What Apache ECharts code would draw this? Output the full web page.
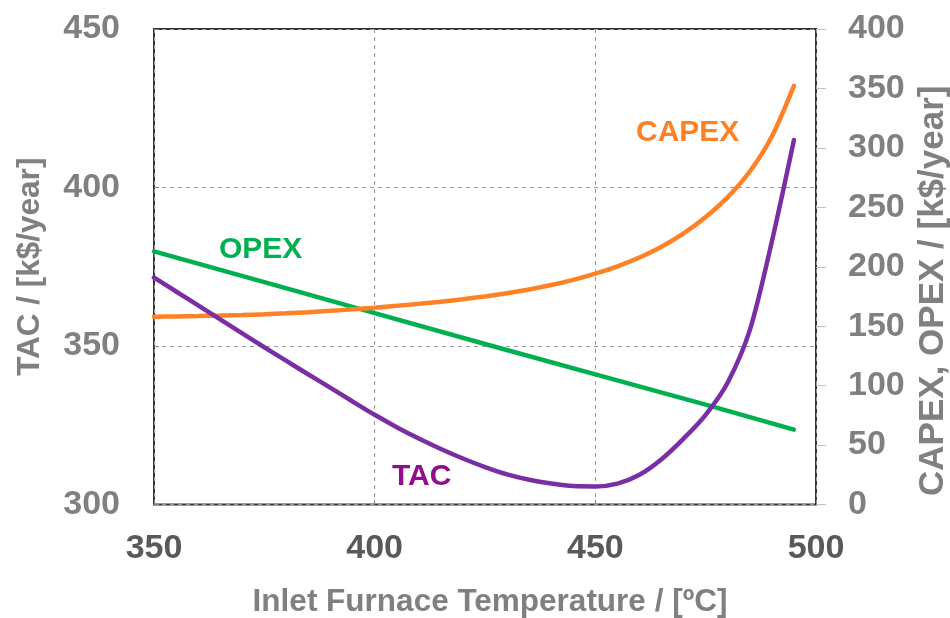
<!DOCTYPE html>
<html>
<head>
<meta charset="utf-8">
<script src="https://cdn.jsdelivr.net/npm/echarts@6/dist/echarts.min.js"></script>
<style>html,body{margin:0;padding:0;background:#fff}#c{width:950px;height:618px}</style>
</head>
<body>
<div id="c"></div>
<script>
// Temperatures (ºC)
var opexT  = [350, 375, 400, 425, 450, 475, 495];
var opexV  = [213, 187, 161, 135, 109.5, 84, 63];
var capexT = [350, 355, 360, 365, 370, 375, 380, 385, 390, 395, 400, 405, 410, 415, 420, 425, 430, 435, 440, 445, 450, 455, 460, 465, 470, 475, 480, 485, 490, 495];
var capexV = [158, 158.2, 158.5, 158.9, 159.4, 160.05, 160.85, 161.8, 162.9, 164.15, 165.55, 167.1, 168.8, 170.65, 172.7, 175.05, 177.75, 180.9, 184.6, 189, 194.2, 200.4, 207.8, 216.8, 228, 241.8, 258.6, 280.1, 309.6, 352.1];
var tacT   = [350, 355, 360, 365, 370, 375, 380, 385, 390, 395, 400, 405, 410, 415, 420, 425, 430, 435, 440, 445, 450, 455, 460, 465, 470, 475, 480, 485, 490, 495];
var tacV   = [371.6, 367.2, 362.8, 358.4, 354, 349.6, 345.3, 341, 336.8, 332.5, 328.3, 324.4, 320.8, 317.5, 314.5, 311.8, 309.5, 307.8, 306.6, 305.8, 305.7, 306.6, 309.4, 314.3, 320.8, 328.3, 338.5, 355, 383, 415];
var xTicks = [350, 400, 450, 500];
var leftTicks = [300, 350, 400, 450];
var rightTicks = [0, 50, 100, 150, 200, 250, 300, 350, 400];

function pairs(xs, ys){ return xs.map(function(x,i){ return [x, ys[i]]; }); }

var FONT = '"Liberation Sans", Arial, sans-serif';
var chart = echarts.init(document.getElementById('c'), null, {renderer:'canvas'});
chart.setOption({
  animation: false,
  backgroundColor: '#ffffff',
  grid: {left: 154, right: 134, top: 29, bottom: 113.5, containLabel: false, outerBoundsMode: 'none',
         show: true, borderColor: '#333333', borderWidth: 2, backgroundColor: 'transparent'},
  xAxis: {
    type: 'value', min: xTicks[0], max: xTicks[xTicks.length-1], interval: 50,
    name: 'Inlet Furnace Temperature / [ºC]', nameLocation: 'middle', nameGap: 82,
    nameTextStyle: {fontFamily: FONT, fontSize: 31.5, fontWeight: 'bold', color: '#808080', padding: [0, 0, 0, 10]},
    axisLine: {show: false},
    axisTick: {show: true, inside: true, length: 5, lineStyle: {color: '#888'}},
    axisLabel: {margin: 27, fontFamily: FONT, fontSize: 34, fontWeight: 'bold', color: '#595959'},
    splitLine: {show: true, lineStyle: {type: [4, 4], color: '#999999', width: 1}}
  },
  yAxis: [{
    type: 'value', min: leftTicks[0], max: leftTicks[leftTicks.length-1], interval: 50,
    name: 'TAC / [k$/year]', nameLocation: 'middle', nameGap: 108,
    nameTextStyle: {fontFamily: FONT, fontSize: 31.5, fontWeight: 'bold', color: '#808080'},
    axisLine: {show: false},
    axisTick: {show: true, inside: true, length: 5, lineStyle: {color: '#888'}},
    axisLabel: {margin: 34, fontFamily: FONT, fontSize: 34, fontWeight: 'bold', color: '#808080'},
    splitLine: {show: true, lineStyle: {type: [4, 4], color: '#999999', width: 1}}
  }, {
    type: 'value', min: rightTicks[0], max: rightTicks[rightTicks.length-1], interval: 50,
    name: 'CAPEX, OPEX / [k$/year]', nameLocation: 'middle', nameGap: 99,
    nameTextStyle: {fontFamily: FONT, fontSize: 35, fontWeight: 'bold', color: '#808080', padding: [0, 48, 0, 0]},
    axisLine: {show: false},
    axisTick: {show: true, inside: false, length: 10, lineStyle: {color: '#c0c0c0'}},
    axisLabel: {margin: 32, fontFamily: FONT, fontSize: 34, fontWeight: 'bold', color: '#808080'},
    splitLine: {show: false}
  }],
  series: [{
    name: 'OPEX', type: 'line', yAxisIndex: 1, data: pairs(opexT, opexV),
    showSymbol: false, smooth: false, lineStyle: {color: '#00B050', width: 4.5, cap: 'round'}
  }, {
    name: 'CAPEX', type: 'line', yAxisIndex: 1, data: pairs(capexT, capexV),
    showSymbol: false, smooth: 0.3, lineStyle: {color: '#FF8126', width: 4.5, cap: 'round'}
  }, {
    name: 'TAC', type: 'line', yAxisIndex: 0, data: pairs(tacT, tacV),
    showSymbol: false, smooth: 0.3, lineStyle: {color: '#7A2EA3', width: 4.5, cap: 'round'}
  }],
  graphic: [
    {type: 'text', left: 219, top: 235, style: {text: 'OPEX', font: 'bold 30px ' + FONT, fill: '#00B050'}},
    {type: 'text', left: 636, top: 118, style: {text: 'CAPEX', font: 'bold 30px ' + FONT, fill: '#FF8126'}},
    {type: 'text', left: 392, top: 462, style: {text: 'TAC', font: 'bold 30px ' + FONT, fill: '#940C8E'}}
  ]
});
</script>
</body>
</html>
